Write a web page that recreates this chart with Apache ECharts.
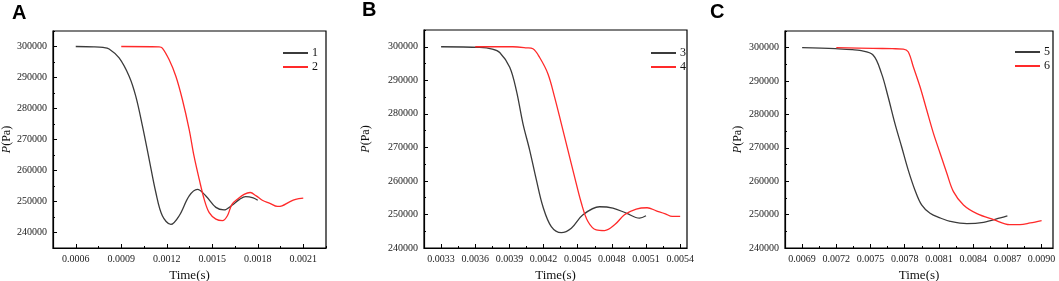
<!DOCTYPE html>
<html>
<head>
<meta charset="utf-8">
<script src="https://cdn.jsdelivr.net/npm/echarts@6/dist/echarts.min.js"></script>
<style>
  html, body { margin: 0; padding: 0; background: #fff; }
  #chart { width: 1059px; height: 281px; }
</style>
</head>
<body>
<div id="chart"></div>
<script>
// panel A
const time1 = [0.0006, 0.00072, 0.00078, 0.00082, 0.000886, 0.000952, 0.000996, 0.00104, 0.001084, 0.001128, 0.001171, 0.001227, 0.001282, 0.001348, 0.001402, 0.001458, 0.001524, 0.001578, 0.00163, 0.00168, 0.00172, 0.00177, 0.0018];
const pres1 = [300000, 299900, 299700, 299200, 296300, 290400, 283900, 274300, 263600, 252900, 245400, 242600, 245400, 251800, 253900, 251800, 248100, 247300, 248800, 250700, 251600, 251200, 250400];
const time2 = [0.0009, 0.00115, 0.001171, 0.001216, 0.00126, 0.001303, 0.001348, 0.00138, 0.001414, 0.001447, 0.00148, 0.001524, 0.001567, 0.0016, 0.00163, 0.00167, 0.00171, 0.00175, 0.00179, 0.00183, 0.00188, 0.00193, 0.00196, 0.00201, 0.00205, 0.0021];
const pres2 = [300000, 299900, 299500, 295700, 290400, 282900, 273200, 264600, 257200, 250700, 246400, 244300, 243800, 245400, 249100, 250900, 252300, 252900, 251800, 250400, 249400, 248400, 248600, 249900, 250700, 251100];

// panel B
const time3 = [0.0033, 0.00364, 0.00375, 0.003815, 0.003903, 0.003961, 0.004019, 0.004078, 0.004137, 0.004195, 0.004268, 0.004356, 0.004444, 0.004546, 0.004692, 0.004809, 0.004926, 0.005043, 0.0051];
const pres3 = [300000, 299800, 299300, 298300, 293900, 287000, 277100, 269200, 260300, 252300, 246400, 244600, 245900, 249900, 252300, 251900, 250400, 248900, 249600];
const time4 = [0.0036, 0.00393, 0.00405, 0.004107, 0.004166, 0.004239, 0.004297, 0.004356, 0.004414, 0.004472, 0.004532, 0.00459, 0.004663, 0.004736, 0.004824, 0.004911, 0.005014, 0.00511, 0.00519, 0.00527, 0.00533, 0.0054];
const pres4 = [300000, 300000, 299700, 299400, 296800, 291900, 285000, 277100, 269200, 261300, 253400, 247900, 245400, 245200, 246900, 249900, 251600, 252000, 251100, 250200, 249400, 249400];

// panel C
const time5 = [0.0069, 0.00719, 0.00734, 0.007405, 0.007522, 0.007596, 0.007654, 0.007713, 0.007772, 0.00783, 0.007889, 0.007948, 0.008022, 0.00811, 0.008198, 0.008345, 0.008491, 0.008638, 0.0087];
const pres5 = [300000, 299700, 299400, 299200, 297800, 292300, 285300, 277400, 270400, 263400, 257400, 252900, 250400, 249000, 248000, 247300, 247700, 249000, 249600];
const time6 = [0.0072, 0.00752, 0.00769, 0.007787, 0.00783, 0.007875, 0.007934, 0.007992, 0.008051, 0.00811, 0.008169, 0.008227, 0.008315, 0.008433, 0.008579, 0.00872, 0.00881, 0.0089, 0.009];
const pres6 = [300000, 299800, 299700, 299600, 298800, 294300, 288300, 281400, 274400, 268400, 262400, 256900, 252900, 250300, 248500, 247000, 247000, 247500, 248200];

// tick labels
const xTicksA = [0.0006, 0.0009, 0.0012, 0.0015, 0.0018, 0.0021];
const xTicksB = [0.0033, 0.0036, 0.0039, 0.0042, 0.0045, 0.0048, 0.0051, 0.0054];
const xTicksC = [0.0069, 0.0072, 0.0075, 0.0078, 0.0081, 0.0084, 0.0087, 0.0090];
const yTicks = [240000, 250000, 260000, 270000, 280000, 290000, 300000];
const panelLetters = ["A", "B", "C"];
const legendNames = [["1", "2"], ["3", "4"], ["5", "6"]];

const zip = (xs, ys) => xs.map((x, i) => [x, ys[i]]);
const between = (ticks, lo, hi) => {
  const step = ticks[1] - ticks[0];
  const out = [];
  for (let v = ticks[0] - step / 2; v <= hi + 1e-12; v += step) {
    if (v >= lo - 1e-12) out.push(+v.toFixed(8));
  }
  return out;
};

const serif = "'Times New Roman', 'Liberation Serif', serif";
const BLACK = "#3b3b3b";
const RED = "#ff2a2a";

const panels = [
  {grid: {left: 53, top: 31, width: 273, height: 217}, xMin: 0.00045, xMax: 0.00225, yMin: 235000, yMax: 305000,
    xTicks: xTicksA, yGap: 40, legend: {left: 282, top: 47},
    series: [zip(time1, pres1), zip(time2, pres2)]},
  {grid: {left: 424, top: 30, width: 263, height: 218}, xMin: 0.00315, xMax: 0.00546, yMin: 240000, yMax: 305000,
    xTicks: xTicksB, yGap: 52, legend: {left: 650, top: 47},
    series: [zip(time3, pres3), zip(time4, pres4)]},
  {grid: {left: 785, top: 31, width: 268, height: 217}, xMin: 0.00675, xMax: 0.0091, yMin: 240000, yMax: 305000,
    xTicks: xTicksC, yGap: 41, legend: {left: 1014, top: 46},
    series: [zip(time5, pres5), zip(time6, pres6)]}
];

const grid = [], xAxis = [], yAxis = [], series = [], legend = [], title = [];
const letterPos = [{left: 12, top: 3}, {left: 362, top: 0}, {left: 710, top: 2}];

panels.forEach((p, k) => {
  grid.push(Object.assign({show: true, borderColor: "#000", borderWidth: 1.2, backgroundColor: "transparent",
    containLabel: false, outerBoundsMode: "none"}, p.grid));
  const xi = xAxis.length, yi = yAxis.length;
  // main x axis with labels
  xAxis.push({
    type: "value", gridIndex: k, min: p.xMin, max: p.xMax, position: "bottom",
    name: "Time(s)", nameLocation: "middle", nameGap: 21,
    nameTextStyle: {fontFamily: serif, fontSize: 13, color: "#111"},
    axisLine: {show: true, onZero: false, lineStyle: {color: "#000", width: 1.2}},
    axisTick: {show: true, inside: true, length: 4, customValues: p.xTicks, lineStyle: {color: "#000"}},
    axisLabel: {customValues: p.xTicks, margin: 6, fontFamily: serif, fontSize: 10, color: "#222",
      formatter: v => v.toFixed(4)},
    splitLine: {show: false}
  });
  // minor x ticks
  xAxis.push({
    type: "value", gridIndex: k, min: p.xMin, max: p.xMax, position: "bottom",
    axisLine: {show: false, onZero: false},
    axisTick: {show: true, inside: true, length: 2, customValues: between(p.xTicks, p.xMin, p.xMax), lineStyle: {color: "#000"}},
    axisLabel: {show: false}, splitLine: {show: false}
  });
  yAxis.push({
    type: "value", gridIndex: k, min: p.yMin, max: p.yMax, position: "left",
    name: "{i|P}(Pa)", nameLocation: "middle", nameGap: p.yGap, nameRotate: 90,
    nameTextStyle: {fontFamily: serif, fontSize: 12, color: "#111",
      rich: {i: {fontFamily: serif, fontSize: 12, fontStyle: "italic", color: "#111"}}},
    axisLine: {show: true, onZero: false, lineStyle: {color: "#000", width: 1.2}},
    axisTick: {show: true, inside: true, length: 4, customValues: yTicks, lineStyle: {color: "#000"}},
    axisLabel: {customValues: yTicks, margin: 6, fontFamily: serif, fontSize: 10, color: "#222",
      formatter: v => String(v)},
    splitLine: {show: false}
  });
  yAxis.push({
    type: "value", gridIndex: k, min: p.yMin, max: p.yMax, position: "left",
    axisLine: {show: false, onZero: false},
    axisTick: {show: true, inside: true, length: 2, customValues: between(yTicks, p.yMin, p.yMax), lineStyle: {color: "#000"}},
    axisLabel: {show: false}, splitLine: {show: false}
  });
  p.series.forEach((d, j) => {
    series.push({
      type: "line", name: legendNames[k][j], xAxisIndex: xi, yAxisIndex: yi,
      data: d, smooth: 0.35, symbol: "none",
      lineStyle: {width: 1.3, color: j === 0 ? BLACK : RED},
      itemStyle: {color: j === 0 ? BLACK : RED}
    });
  });
  legend.push({
    data: legendNames[k], orient: "vertical", left: p.legend.left, top: p.legend.top,
    itemWidth: 25, itemHeight: 10, itemGap: 2, padding: 0,
    itemStyle: {opacity: 0},
    textStyle: {fontFamily: serif, fontSize: 12, color: "#111", padding: [0, 0, 0, -1]}
  });
  title.push({text: panelLetters[k], left: letterPos[k].left, top: letterPos[k].top, padding: 0,
    textStyle: {fontFamily: "'Liberation Sans', Arial, sans-serif", fontWeight: "bold", fontSize: 20, color: "#000"}});
});

const myChart = echarts.init(document.getElementById("chart"), null, {renderer: "canvas"});
myChart.setOption({
  animation: false,
  title, grid, xAxis, yAxis, legend, series
});
</script>
</body>
</html>
